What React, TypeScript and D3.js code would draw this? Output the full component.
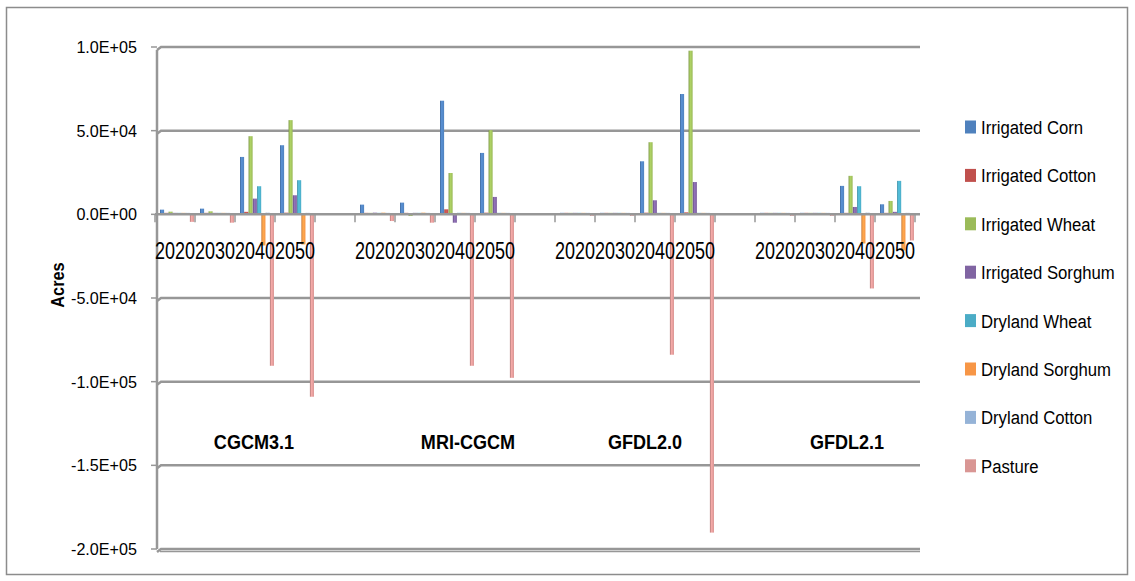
import React from "react";
import * as d3 from "d3";

const models = ["CGCM3.1", "MRI-CGCM", "GFDL2.0", "GFDL2.1"];
const years = ["2020", "2030", "2040", "2050"];
const seriesNames = [
  "Irrigated Corn",
  "Irrigated Cotton",
  "Irrigated Wheat",
  "Irrigated Sorghum",
  "Dryland Wheat",
  "Dryland Sorghum",
  "Dryland Cotton",
  "Pasture",
];
const seriesColors = ["#4F81BD", "#C0504D", "#9BBB59", "#8064A2", "#4BACC6", "#F79646", "#95B3D7", "#D99694"];

// values per series: model-major, 4 years each
const irrigatedCorn = [2800, 3400, 34300, 41300, 5800, 7000, 67900, 36700, 500, 300, 31700, 71900, 600, 800, 17000, 6000];
const irrigatedCotton = [500, 500, 1500, 1000, 800, 600, 3000, 1000, 300, 300, 1000, 1200, 300, 300, 500, 500];
const irrigatedWheat = [1600, 1800, 46700, 56300, 800, -1000, 24700, 50300, 400, 300, 43100, 97800, 500, 500, 23000, 8000];
const irrigatedSorghum = [500, 500, 9400, 11400, 1000, 800, -5000, 10400, 300, 300, 8400, 19300, 300, 300, 4400, 1500];
const drylandWheat = [300, 300, 16800, 20400, 300, 300, 300, 300, 300, 300, 300, 300, 300, 300, 16800, 20000];
const drylandSorghum = [500, 500, -18600, -18000, 1000, 1000, 500, 500, 300, 300, 500, 500, 300, 300, -17400, -21600];
const drylandCotton = [300, 300, 1000, 500, 300, 300, 300, 300, 300, 300, 300, 300, 300, 300, 1000, 500];
const pasture = [-4500, -5000, -90500, -109000, -4000, -5000, -90500, -97700, -300, -300, -83900, -190200, -300, -300, -44300, -15600];

const seriesValues = [irrigatedCorn, irrigatedCotton, irrigatedWheat, irrigatedSorghum, drylandWheat, drylandSorghum, drylandCotton, pasture];

const yTicks = [100000, 50000, 0, -50000, -100000, -150000, -200000];
const yTickLabels = ["1.0E+05", "5.0E+04", "0.0E+00", "-5.0E+04", "-1.0E+05", "-1.5E+05", "-2.0E+05"];

const groupLabelPos = [254, 468, 645, 847];

export default function App() {
  const slots: { key: string; year: string; mi: number; yi: number }[] = [];
  models.forEach((m, mi) => {
    years.forEach((y, yi) => slots.push({ key: m + "|" + y, year: y, mi, yi }));
    if (mi < models.length - 1) slots.push({ key: "blank" + mi, year: "", mi: -1, yi: -1 });
  });

  const x = d3.scaleBand<string>().domain(slots.map((s) => s.key)).range([155, 915]).padding(0);
  const inner = d3.scaleBand<string>().domain(seriesNames).range([5, 39]).paddingInner(0.04);
  const y = d3.scaleLinear().domain([-200000, 100000]).range([549, 47]);

  const y0 = y(0);
  const plotRight = 920;
  const grid = "#979797";

  const tickXs = d3.range(slots.length + 1).map((i) => 155 + i * x.bandwidth());

  return (
    <svg width={1135} height={581} style={{ position: "absolute", left: 0, top: 0, background: "#fff" }} fontFamily="'Liberation Sans', Arial, sans-serif">
      <defs>
        {seriesColors.map((c, i) => {
          const dark = d3.color(c)!.darker(0.6).formatHex();
          const light = d3.color(c)!.brighter(0.35).formatHex();
          return (
            <linearGradient key={i} id={"g" + i} x1="0" x2="1" y1="0" y2="0">
              <stop offset="0%" stopColor={dark} />
              <stop offset="40%" stopColor={light} />
              <stop offset="100%" stopColor={c} />
            </linearGradient>
          );
        })}
      </defs>
      <rect x={6.5} y={7.5} width={1121} height={567} fill="#fff" stroke="#8C8C8C" strokeWidth={1.5} />

      {yTicks.map((t, i) => (
        <g key={i}>
          <line x1={151} x2={157} y1={y(t)} y2={y(t)} stroke={grid} strokeWidth={1.5} />
          {t !== 0 && (
            <path d={`M157,${y(t) + 3} L161,${y(t)} L${plotRight},${y(t)}`} fill="none" stroke={grid} strokeWidth={2.5} />
          )}
        </g>
      ))}
      <line x1={plotRight - 760} x2={plotRight} y1={y(-200000) + 2.5} y2={y(-200000) + 2.5} stroke={grid} strokeWidth={1.5} />
      <line x1={157} x2={157} y1={y(100000) + 3} y2={y(-200000)} stroke={grid} strokeWidth={2.5} />

      {yTicks.map((t, i) => (
        <text key={i} transform={`translate(137,${y(t) + 6}) scale(0.95,1)`} textAnchor="end" fontSize={17} fill="#000">
          {yTickLabels[i]}
        </text>
      ))}
      <text transform={`translate(64,285) rotate(-90) scale(0.86,1)`} textAnchor="middle" fontSize={19} fontWeight="bold">
        Acres
      </text>

      {slots.map((s) =>
        s.mi < 0
          ? null
          : seriesNames.map((n, si) => {
              const v = seriesValues[si][s.mi * 4 + s.yi];
              const bx = (x(s.key) as number) + (inner(n) as number);
              const h = Math.max(Math.abs(y(v) - y0), 1.5);
              return <rect key={s.key + n} x={bx} y={v >= 0 ? y0 - h : y0} width={inner.bandwidth()} height={h} fill={`url(#g${si})`} />;
            })
      )}

      <line x1={155} x2={plotRight} y1={y0} y2={y0} stroke={grid} strokeWidth={2.5} />
      {tickXs.map((tx, i) => (
        <line key={i} x1={tx} x2={tx} y1={y0} y2={y0 + 8} stroke={grid} strokeWidth={1.5} />
      ))}
      {slots.map((s) =>
        s.year ? (
          <text key={"l" + s.key} transform={`translate(${(x(s.key) as number) + x.bandwidth() / 2},259) scale(0.75,1)`} textAnchor="middle" fontSize={24} fill="#000">
            {s.year}
          </text>
        ) : null
      )}

      {models.map((m, i) => (
        <text key={m} transform={`translate(${groupLabelPos[i]},449) scale(0.86,1)`} textAnchor="middle" fontSize={21} fontWeight="bold">
          {m}
        </text>
      ))}

      {seriesNames.map((n, i) => {
        const cy = 127 + i * 48.4;
        return (
          <g key={n}>
            <rect x={965} y={cy - 6.5} width={11} height={13} fill={seriesColors[i]} />
            <text transform={`translate(981,${cy + 7}) scale(0.88,1)`} fontSize={19} fill="#000">
              {n}
            </text>
          </g>
        );
      })}
    </svg>
  );
}
